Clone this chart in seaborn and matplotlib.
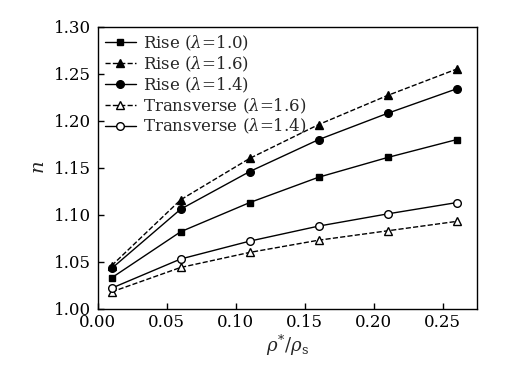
import pandas as pd
import matplotlib
matplotlib.use("Agg")
import matplotlib.pyplot as plt
import seaborn as sns

# ==========================================
# DATA
# ==========================================
x_vals = [0.01, 0.06, 0.11, 0.16, 0.21, 0.26]

rise_10 = [1.033, 1.082, 1.113, 1.140, 1.161, 1.180]
rise_16 = [1.046, 1.116, 1.160, 1.196, 1.227, 1.255]
rise_14 = [1.043, 1.106, 1.146, 1.180, 1.208, 1.234]
trans_16 = [1.018, 1.044, 1.060, 1.073, 1.083, 1.093]
trans_14 = [1.022, 1.053, 1.072, 1.088, 1.101, 1.113]

labels = [
    r"Rise ($\lambda$=1.0)",
    r"Rise ($\lambda$=1.6)",
    r"Rise ($\lambda$=1.4)",
    r"Transverse ($\lambda$=1.6)",
    r"Transverse ($\lambda$=1.4)",
]
series = [rise_10, rise_16, rise_14, trans_16, trans_14]

x_ticks = [0.00, 0.05, 0.10, 0.15, 0.20, 0.25]
y_ticks = [1.00, 1.05, 1.10, 1.15, 1.20, 1.25, 1.30]

# styles per series: marker, linestyle, face color, marker size
styles = [
    ("s", "-", "black", 5),
    ("^", "--", "black", 5.5),
    ("o", "-", "black", 5.5),
    ("^", "--", "white", 5.5),
    ("o", "-", "white", 5.5),
]

# ==========================================
# PLOT
# ==========================================
sns.set_style("ticks")
plt.rcParams["font.family"] = ["DejaVu Serif"]
plt.rcParams["mathtext.fontset"] = "dejavuserif"

fig = plt.figure(figsize=(5.32, 3.78), dpi=100)
ax = fig.add_axes([0.184, 0.183, 0.713, 0.746])

for label, vals, (mk, ls, fc, ms) in zip(labels, series, styles):
    df = pd.DataFrame({"x": x_vals, "n": vals})
    sns.lineplot(
        data=df,
        x="x",
        y="n",
        ax=ax,
        color="black",
        linestyle=ls,
        linewidth=1.0,
        marker=mk,
        markersize=ms,
        markerfacecolor=fc,
        markeredgecolor="black",
        markeredgewidth=1.0,
        label=label,
    )

ax.set_xlim(0.0, 0.275)
ax.set_ylim(1.00, 1.30)
ax.set_xticks(x_ticks)
ax.set_yticks(y_ticks)
ax.set_xticklabels([f"{t:.2f}" for t in x_ticks])
ax.set_yticklabels([f"{t:.2f}" for t in y_ticks])

ax.tick_params(direction="in", length=4, width=1, labelsize=12,
               colors="black", pad=4)
ax.tick_params(axis="y", pad=5)
for sp in ax.spines.values():
    sp.set_color("black")
    sp.set_linewidth(1.0)

ax.set_xlabel(r"$\rho^{*}/\rho_{\mathrm{s}}$", fontsize=13, labelpad=1)
ax.set_ylabel(r"$n$", fontsize=14, labelpad=4)

ax.legend(
    loc="upper left",
    frameon=False,
    fontsize=12,
    handlelength=1.9,
    handletextpad=0.4,
    labelspacing=0.1,
    borderaxespad=0.1,
    borderpad=0.3,
)

plt.savefig("out.png", dpi=100)
